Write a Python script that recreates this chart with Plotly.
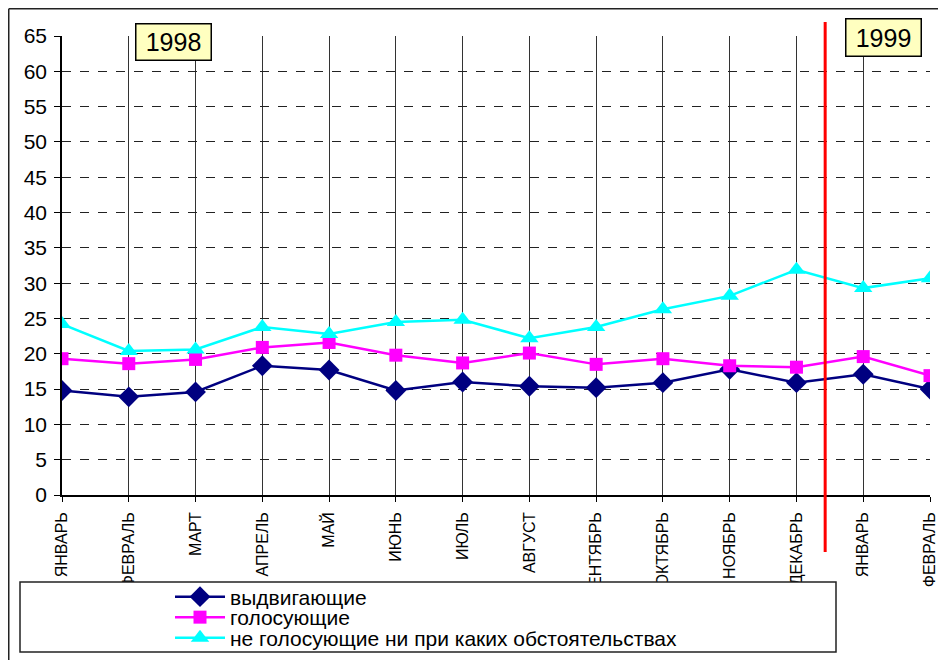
import plotly.graph_objects as go

months = ["ЯНВАРЬ", "ФЕВРАЛЬ", "МАРТ", "АПРЕЛЬ", "МАЙ", "ИЮНЬ", "ИЮЛЬ",
          "АВГУСТ", "СЕНТЯБРЬ", "ОКТЯБРЬ", "НОЯБРЬ", "ДЕКАБРЬ", "ЯНВАРЬ", "ФЕВРАЛЬ"]
vydvigayushchie = [14.8, 13.9, 14.6, 18.3, 17.7, 14.8, 16.0, 15.4, 15.2, 15.9, 17.8, 15.9, 17.1, 15.0]
golosuyushchie = [19.3, 18.6, 19.2, 20.9, 21.6, 19.8, 18.7, 20.1, 18.5, 19.3, 18.3, 18.1, 19.6, 16.9]
ne_golosuyushchie = [24.2, 20.4, 20.6, 23.8, 22.8, 24.5, 24.8, 22.2, 23.8, 26.3, 28.2, 31.9, 29.3, 30.7]
series_names = ["выдвигающие", "голосующие", "не голосующие ни при каких обстоятельствах"]
year_labels = ["1998", "1999"]
year_break = 11.43  # position between ДЕКАБРЬ and ЯНВАРЬ

x = list(range(len(months)))
FONT = "Liberation Sans, Arial, sans-serif"

# The page body has an 8px margin, so the figure starts at page (8, 8).
OFF = 8
W, H = 946 - OFF, 660 - OFF
L, T = 62 - OFF, 36 - OFF
R = W - (930 - OFF)
B = H - (495 - OFF)
pw, ph = W - L - R, H - T - B

def px2x(p):  # page pixel -> paper x
    return (p - OFF - L) / pw

def px2y(p):  # page pixel -> paper y
    return (H - B - (p - OFF)) / ph

fig = go.Figure()
fig.add_trace(go.Scatter(x=x, y=vydvigayushchie, name=series_names[0], mode="lines+markers",
                         line=dict(color="#000080", width=2.5),
                         marker=dict(symbol="diamond", size=16, color="#000080"),
                         legend="legend"))
fig.add_trace(go.Scatter(x=x, y=golosuyushchie, name=series_names[1], mode="lines+markers",
                         line=dict(color="#FF00FF", width=2.5),
                         marker=dict(symbol="square", size=13, color="#FF00FF"),
                         legend="legend2"))
fig.add_trace(go.Scatter(x=x, y=ne_golosuyushchie, name=series_names[2], mode="lines+markers",
                         line=dict(color="#00FFFF", width=2.5),
                         marker=dict(symbol="triangle-up", size=16, color="#00FFFF"),
                         legend="legend3"))

shapes = [
    # year divider
    dict(type="line", xref="x", yref="paper", x0=year_break, x1=year_break,
         y0=px2y(552), y1=px2y(22), line=dict(color="#FF0000", width=3), layer="above"),
    # legend frame
    dict(type="rect", xref="paper", yref="paper", x0=px2x(20), x1=px2x(836),
         y0=px2y(652), y1=px2y(582), line=dict(color="#222", width=1.5),
         fillcolor="white", layer="above"),
    # outer frame
    dict(type="line", xref="paper", yref="paper", x0=px2x(8.75), x1=px2x(946),
         y0=px2y(8.75), y1=px2y(8.75), line=dict(color="#222", width=1.5)),
    dict(type="line", xref="paper", yref="paper", x0=px2x(8.75), x1=px2x(8.75),
         y0=px2y(8.75), y1=px2y(660), line=dict(color="#222", width=1.5)),
]

annotations = [
    dict(text=year_labels[0], xref="paper", yref="paper", x=px2x(173), y=px2y(41.5),
         xanchor="center", yanchor="middle", showarrow=False,
         font=dict(family=FONT, size=25, color="black"),
         bgcolor="#FFFFC0", bordercolor="black", borderwidth=1.5, borderpad=0,
         width=74, height=35),
    dict(text=year_labels[1], xref="paper", yref="paper", x=px2x(883.5), y=px2y(38),
         xanchor="center", yanchor="middle", showarrow=False,
         font=dict(family=FONT, size=25, color="black"),
         bgcolor="#FFFFC0", bordercolor="black", borderwidth=1.5, borderpad=0,
         width=74, height=36),
]

def leg(row_y):
    return dict(x=px2x(170), y=px2y(row_y), xanchor="left", yanchor="middle",
                bgcolor="rgba(0,0,0,0)", borderwidth=0,
                font=dict(family=FONT, size=21, color="black"),
                itemwidth=50, tracegroupgap=0)

fig.update_layout(
    width=W, height=H,
    margin=dict(l=L, r=R, t=T, b=B, autoexpand=False),
    paper_bgcolor="white", plot_bgcolor="white",
    font=dict(family=FONT, color="black"),
    showlegend=True,
    legend=leg(597), legend2=leg(617.5), legend3=leg(638),
    shapes=shapes,
    annotations=annotations,
    xaxis=dict(range=[0, len(months) - 1], tickmode="array", tickvals=x, ticktext=months,
               tickangle=-90, tickfont=dict(family=FONT, size=16, color="black"),
               showgrid=True, gridcolor="#333", gridwidth=1,
               showline=True, linecolor="black", linewidth=1.5,
               ticks="outside", ticklen=5, tickcolor="black", zeroline=False,
               ticklabelstandoff=4),
    yaxis=dict(range=[0, 65], dtick=5, tick0=0,
               tickfont=dict(family=FONT, size=21, color="black"),
               showgrid=True, gridcolor="#222", gridwidth=1, griddash="dash",
               showline=True, linecolor="black", linewidth=1.5,
               ticks="outside", ticklen=6, tickcolor="black", zeroline=False,
               ticklabelstandoff=3),
)

fig.write_html("out.html")
